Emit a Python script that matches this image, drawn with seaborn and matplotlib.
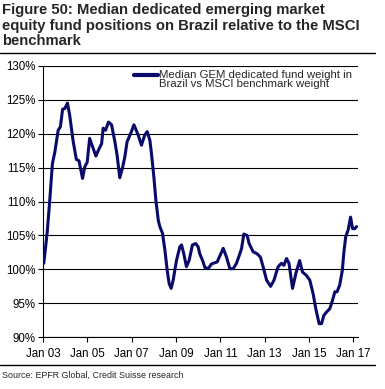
import matplotlib
matplotlib.use("Agg")
import matplotlib.pyplot as plt
from matplotlib.lines import Line2D
from matplotlib.legend_handler import HandlerLine2D
import seaborn as sns
import pandas as pd

# values (decimal year, % of benchmark)
years = [2003.03, 2003.18, 2003.30, 2003.42, 2003.53, 2003.68, 2003.78, 2003.88, 2003.98,
         2004.10, 2004.20, 2004.35, 2004.50, 2004.62, 2004.78, 2004.88, 2004.99,
         2005.10, 2005.23, 2005.38, 2005.53, 2005.64, 2005.71, 2005.82, 2005.95,
         2006.09, 2006.24, 2006.34, 2006.46, 2006.58, 2006.69, 2006.79, 2006.95,
         2007.10, 2007.29, 2007.44, 2007.59, 2007.70, 2007.82, 2007.89,
         2008.00, 2008.09, 2008.20, 2008.27, 2008.39, 2008.50, 2008.60, 2008.69, 2008.78, 2008.87,
         2009.02, 2009.17, 2009.25, 2009.35, 2009.47, 2009.59, 2009.74, 2009.89,
         2010.00, 2010.07, 2010.20, 2010.30, 2010.45, 2010.60, 2010.86, 2010.98,
         2011.13, 2011.28, 2011.43, 2011.58, 2011.73, 2011.88, 2011.96,
         2012.06, 2012.21, 2012.30, 2012.48, 2012.66, 2012.81, 2012.93,
         2013.09, 2013.27, 2013.42, 2013.61, 2013.76, 2013.87, 2013.99,
         2014.10, 2014.26, 2014.41, 2014.58, 2014.71, 2014.89,
         2015.04, 2015.19, 2015.31, 2015.46, 2015.57, 2015.67, 2015.79, 2015.94,
         2016.06, 2016.17, 2016.27, 2016.39, 2016.51, 2016.57, 2016.66, 2016.77, 2016.88, 2016.97,
         2017.07, 2017.15]
weights = [100.9, 105.3, 110.2, 115.6, 117.3, 120.5, 121.0, 123.6, 123.7,
           124.5, 122.7, 119.0, 116.2, 116.0, 113.4, 115.1, 115.8,
           119.3, 118.1, 116.7, 117.8, 118.5, 120.8, 120.5, 121.7,
           121.3, 118.8, 116.8, 113.5, 114.9, 116.6, 118.8, 120.0,
           121.3, 119.8, 118.3, 119.8, 120.3, 119.0, 117.1,
           113.6, 110.2, 107.2, 106.3, 105.3, 102.8, 99.9, 97.9, 97.2, 98.4,
           101.3, 103.3, 103.6, 102.3, 100.4, 101.3, 103.6, 103.8,
           103.3, 102.3, 101.3, 100.3, 100.1, 100.8, 101.1, 102.0,
           103.1, 101.8, 100.1, 100.1, 100.9, 102.3, 103.1,
           105.2, 105.0, 103.8, 102.6, 102.3, 101.8, 100.4,
           98.4, 97.5, 98.4, 100.4, 100.9, 100.6, 101.6,
           100.9, 97.2, 99.4, 101.3, 99.6, 99.1,
           98.4, 96.4, 94.2, 92.0, 92.0, 93.2, 93.7, 94.2,
           95.4, 96.7, 96.7, 97.7, 99.9, 102.3, 104.8, 105.8, 107.7, 106.0,
           106.0, 106.3]

tick_years = [2003, 2005, 2007, 2009, 2011, 2013, 2015, 2017]
tick_labels = ["Jan 03", "Jan 05", "Jan 07", "Jan 09", "Jan 11", "Jan 13", "Jan 15", "Jan 17"]
y_ticks = [90, 95, 100, 105, 110, 115, 120, 125, 130]

series_name = "Median GEM dedicated fund weight in\nBrazil vs MSCI benchmark weight"
df = pd.DataFrame({"year": years, "weight": weights, "series": series_name})


# legend sample sits level with the first text line, as in the original
class TopLineHandler(HandlerLine2D):
    def create_artists(self, legend, orig_handle, xdescent, ydescent,
                       width, height, fontsize, trans):
        arts = super().create_artists(legend, orig_handle, xdescent, ydescent,
                                      width, height, fontsize, trans)
        for a in arts:
            yd = a.get_ydata()
            a.set_ydata([y + 0.45 * fontsize for y in yd])
        return arts


sns.set_style("white")
plt.rcParams["font.family"] = ["Liberation Sans", "DejaVu Sans"]

fig = plt.figure(figsize=(3.85, 3.89), dpi=100)
ax = fig.add_axes([0.112, 0.133, 0.817, 0.698])

sns.lineplot(data=df, x="year", y="weight", hue="series", palette=["#0a0a6b"],
             linewidth=2.2, ax=ax, zorder=3)

ax.set_xlim(2003, 2017.2)
ax.set_ylim(90, 130)
ax.set_xticks(tick_years)
ax.set_xticklabels(tick_labels)
ax.set_yticks(y_ticks)
ax.set_yticklabels([f"{v}%" for v in y_ticks])
ax.set_xlabel("")
ax.set_ylabel("")
ax.tick_params(axis="both", labelsize=8.3, colors="black", direction="out",
               length=3.5, width=0.8, bottom=True, left=True, pad=2)
ax.tick_params(axis="x", pad=4)

ax.yaxis.grid(True, color="black", linewidth=0.8)
ax.set_axisbelow(True)
for side in ["top", "right"]:
    ax.spines[side].set_visible(False)
for side in ["left", "bottom"]:
    ax.spines[side].set_color("black")
    ax.spines[side].set_linewidth(0.8)

handles, labels = ax.get_legend_handles_labels()
leg = ax.legend(handles, labels, loc="upper left", bbox_to_anchor=(0.272, 1.005),
                frameon=False, fontsize=8.2, handlelength=2.1, handletextpad=0.1,
                borderaxespad=0.1, handler_map={Line2D: TopLineHandler()})
for h in leg.get_lines():
    h.set_linewidth(3.0)
for t in leg.get_texts():
    t.set_linespacing(0.9)

fig.text(0.005, 0.993,
         "Figure 50: Median dedicated emerging market\nequity fund positions on Brazil relative to the MSCI\nbenchmark",
         fontsize=10.7, fontweight="bold", va="top", ha="left", linespacing=1.17)
fig.add_artist(Line2D([0, 0.975], [0.864, 0.864], color="black", linewidth=1.0))
fig.add_artist(Line2D([0, 0.975], [0.062, 0.062], color="black", linewidth=1.0))
fig.text(0.005, 0.035, "Source: EPFR Global, Credit Suisse research", fontsize=6.4,
         va="center", ha="left")

fig.savefig("out.png", dpi=100)
